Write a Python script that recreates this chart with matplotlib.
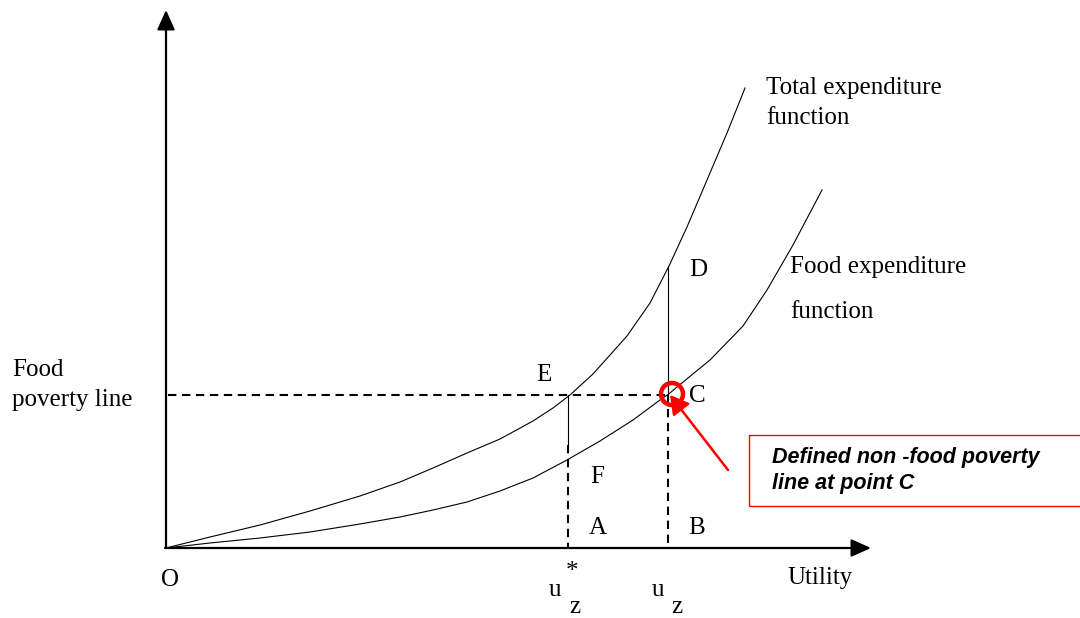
import matplotlib
matplotlib.use("Agg")
import matplotlib.pyplot as plt
from matplotlib.patches import Circle, Rectangle

# Curves (utility on x, expenditure on y)
total_u = [0, 44, 94, 144, 194, 234, 267, 301, 334, 367, 387, 404, 427, 461,
           484, 503, 521, 541, 561, 579]
total_e = [0, 11, 23, 37, 52, 66, 80, 95, 109, 127, 140, 153, 174, 212,
           245, 282, 321, 368, 415, 460]
food_u = [0, 44, 94, 144, 194, 234, 267, 301, 334, 367, 401, 434, 467, 494,
          504, 511, 544, 577, 601, 627, 656]
food_e = [0, 5, 10, 16, 24, 31, 38, 46, 57, 70, 88, 107, 128, 148,
          155, 161, 188, 222, 258, 303, 358]

poverty_line = 153
u_star = 402
u_z = 502
u_star_solid_bottom = 103
d_level = 282

serif = "Liberation Serif"
fig = plt.figure(figsize=(10.8, 6.18), dpi=100)
ax = fig.add_axes([0, 0, 1, 1])
ax.set_xlim(-166, 914)
ax.set_ylim(-70, 548)
ax.axis("off")

# axes with arrows
ax.annotate("", xy=(0, 538), xytext=(0, 0),
            arrowprops=dict(arrowstyle="-|>,head_length=0.6,head_width=0.27",
                            mutation_scale=20, lw=1.6, color="black",
                            shrinkA=0, shrinkB=0))
ax.annotate("", xy=(705, 0), xytext=(-1, 0),
            arrowprops=dict(arrowstyle="-|>,head_length=0.6,head_width=0.27",
                            mutation_scale=20, lw=1.6, color="black",
                            shrinkA=0, shrinkB=0))

# curves
ax.plot(total_u, total_e, color="black", lw=0.8)
ax.plot(food_u, food_e, color="black", lw=0.8)

dash = (0, (4, 2.7))
ax.plot([2, u_z], [poverty_line, poverty_line], color="black", lw=1.5, linestyle=dash)
ax.plot([u_z, u_z], [poverty_line, 0], color="black", lw=1.5, linestyle=dash)
ax.plot([u_z, u_z], [poverty_line, d_level], color="black", lw=0.8)
ax.plot([u_star, u_star], [poverty_line, u_star_solid_bottom], color="black", lw=0.8)
ax.plot([u_star, u_star], [u_star_solid_bottom, 0], color="black", lw=1.5, linestyle=dash)

# red circle and arrow
ax.add_patch(Circle((u_z + 4, poverty_line + 1), 11, fill=False, ec="red", lw=3.2, zorder=5))
ax.annotate("", xy=(u_z + 2, poverty_line), xytext=(562, 78),
            arrowprops=dict(arrowstyle="-|>,head_length=0.7,head_width=0.4",
                            mutation_scale=16, lw=1.8, color="red",
                            shrinkA=0, shrinkB=0), zorder=6)

# annotation box
ax.add_patch(Rectangle((583, 42), 340, 71, fill=False, ec="red", lw=1, clip_on=True))
ax.text(606, 91, "Defined non -food poverty", fontsize=15.5, fontweight="bold",
        fontstyle="italic", family="Liberation Sans", va="center", ha="left")
ax.text(606, 64, "line at point C", fontsize=15.5, fontweight="bold",
        fontstyle="italic", family="Liberation Sans", va="center", ha="left")

fs = 18
def t(x, y, s, ha="center", size=fs):
    ax.text(x, y, s, fontsize=size, family=serif, ha=ha, va="center")

t(378, 173, "E")
t(532, 278, "D")
t(531, 152, "C")
t(431, 71, "F")
t(432, 20, "A")
t(531, 20, "B")
t(4, -32, "O")
t(654, -30, "Utility")
t(389, -42, "u")
t(406, -24, "*")
t(409, -59, "z")
t(492, -42, "u")
t(511, -59, "z")
t(-154, 178, "Food", ha="left")
t(-154, 148, "poverty line", ha="left")
t(600, 460, "Total expenditure", ha="left")
t(600, 430, "function", ha="left")
t(624, 281, "Food expenditure", ha="left")
t(624, 236, "function", ha="left")

fig.savefig("out.png", dpi=100)
